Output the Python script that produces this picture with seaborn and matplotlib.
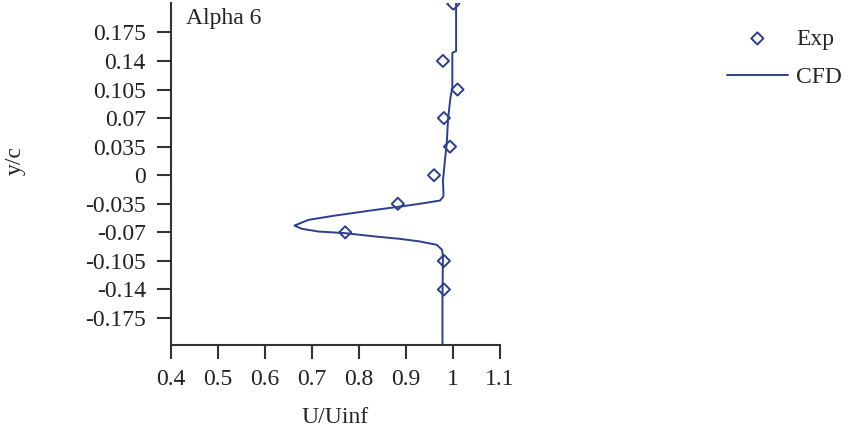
import numpy as np
import pandas as pd
import seaborn as sns
import matplotlib
matplotlib.use("Agg")
import matplotlib.pyplot as plt

# experimental points
exp_u = [1.001, 0.979, 1.010, 0.981, 0.994, 0.960, 0.883, 0.771, 0.981, 0.981]
exp_y = [0.21, 0.14, 0.105, 0.07, 0.035, 0.0, -0.035, -0.07, -0.105, -0.14]

# CFD profile, traced from top to bottom
cfd_u = [1.007, 1.007, 0.999, 0.999, 0.995, 0.990, 0.987, 0.983, 0.979, 0.980,
         0.980, 0.973, 0.930, 0.888, 0.835, 0.750, 0.693, 0.663, 0.679, 0.714,
         0.771, 0.835, 0.888, 0.930, 0.966, 0.977, 0.979, 0.978, 0.978]
cfd_y = [0.211, 0.152, 0.150, 0.107, 0.095, 0.070, 0.038, 0.017, -0.007, -0.020,
         -0.026, -0.031, -0.035, -0.0384, -0.0425, -0.0494, -0.0547, -0.0617, -0.0657, -0.069,
         -0.071, -0.0751, -0.078, -0.0812, -0.0853, -0.0914, -0.0996, -0.15, -0.208]

yticks = [0.175, 0.14, 0.105, 0.07, 0.035, 0, -0.035, -0.07, -0.105, -0.14, -0.175]
ytick_labels = ["0.175", "0.14", "0.105", "0.07", "0.035", "0", "-0.035", "-0.07",
                "-0.105", "-0.14", "-0.175"]
xticks = [0.4, 0.5, 0.6, 0.7, 0.8, 0.9, 1.0, 1.1]
xtick_labels = ["0.4", "0.5", "0.6", "0.7", "0.8", "0.9", "1", "1.1"]

blue = "#2c3e8f"
axis_col = "#333333"
txt_col = "#222222"
fs = 17

sns.set_style("ticks")
plt.rcParams["font.family"] = ["Liberation Serif", "DejaVu Serif"]

cfd = pd.DataFrame({"u": cfd_u, "y": cfd_y})
exp = pd.DataFrame({"u": exp_u, "y": exp_y})

fig = plt.figure(figsize=(8.5, 4.28), dpi=100)
ax = fig.add_axes([0.201, 0.194, 0.387, 0.799])

sns.lineplot(data=cfd, x="u", y="y", sort=False, estimator=None, color=blue,
             linewidth=1.4, label="CFD", ax=ax)
sns.scatterplot(data=exp, x="u", y="y", marker="D", s=38, facecolor="none",
                edgecolor=blue, linewidth=1.4, label="Exp", ax=ax, zorder=3)

ax.set_xlim(0.4, 1.1)
ax.set_ylim(-0.208, 0.211)
ax.set_xticks(xticks)
ax.set_xticklabels(xtick_labels)
ax.set_yticks(yticks)
ax.set_yticklabels(ytick_labels)
ax.tick_params(axis="both", length=10, width=1.5, color=axis_col,
               labelsize=fs, labelcolor=txt_col)
ax.tick_params(axis="y", pad=8)
ax.tick_params(axis="x", pad=7)
ax.set_xlabel("U/Uinf", fontsize=fs, color=txt_col, va="center")
ax.set_ylabel("y/c", fontsize=fs, color=txt_col, va="center")
ax.xaxis.set_label_coords(0.5, -0.213)
ax.yaxis.set_label_coords(-0.474, 0.54)
sns.despine(ax=ax)
for side in ["left", "bottom"]:
    ax.spines[side].set_color(axis_col)
    ax.spines[side].set_linewidth(1.5)

ax.text(0.045, 0.985, "Alpha 6", transform=ax.transAxes, fontsize=fs,
        color=txt_col, va="top", ha="left")

handles, labels = ax.get_legend_handles_labels()
order = [labels.index("Exp"), labels.index("CFD")]
ax.legend([handles[i] for i in order], [labels[i] for i in order],
          loc="upper left", bbox_to_anchor=(0.841, 0.962),
          bbox_transform=fig.transFigure, frameon=False, fontsize=fs,
          handlelength=2.6, handletextpad=0.35, labelspacing=0.72, borderpad=0)

fig.savefig("out.png", dpi=100)
